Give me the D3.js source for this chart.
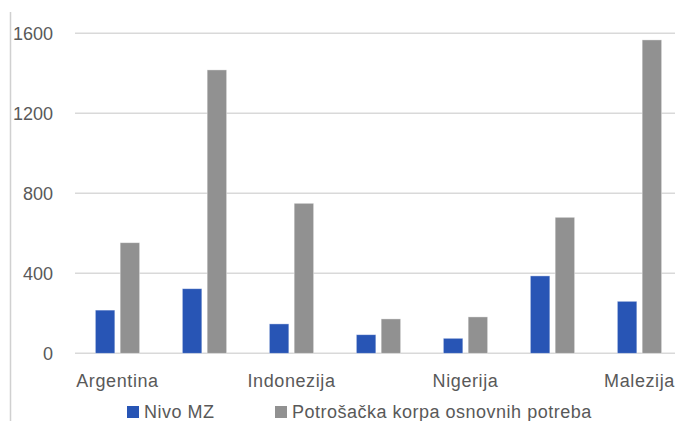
<html>
<head>
<script src="https://d3js.org/d3.v7.min.js"></script>
<style>
  body {margin:0; background:#fff; font-family:"Liberation Sans", Arial, sans-serif;}
  text {fill:#595959;}
</style>
</head>
<body>
<script>
// categories (only every other label is shown in the original)
var categories = ["Argentina", "", "Indonezija", "", "Nigerija", "", "Malezija"]
var nivoMZ     = [216, 323, 147, 93, 75, 387, 260]
var korpa      = [553, 1417, 750, 172, 182, 680, 1567]
var seriesNames = ["Nivo MZ", "Potrošačka korpa osnovnih potreba"]
var seriesColors = ["#2855b5", "#919191"]
var yTicks = [0, 400, 800, 1200, 1600]

var width = 675, height = 421
var svg = d3.select("body").append("svg")
    .attr("width", width)
    .attr("height", height)

var x = d3.scaleBand()
    .domain(d3.range(categories.length))
    .range([74, 683])

var sub = d3.scaleBand()
    .domain([0, 1])
    .range([0, x.bandwidth()])
    .paddingInner(0.214)
    .paddingOuter(0.86)

var y = d3.scaleLinear()
    .domain([0, 1600])
    .range([353.3, 33.3])

// left border line
svg.append("line")
    .attr("x1", 10.5).attr("x2", 10.5)
    .attr("y1", 12).attr("y2", height)
    .style("stroke", "#d0d0d0")
    .style("stroke-width", 1.5)

// gridlines
svg.append("g")
    .selectAll("line")
    .data(yTicks)
    .enter().append("line")
    .attr("x1", 75).attr("x2", width)
    .attr("y1", function(d){ return y(d) })
    .attr("y2", function(d){ return y(d) })
    .style("stroke", "#d9d9d9")
    .style("stroke-width", 1.5)

// y tick labels
svg.append("g")
    .selectAll("text")
    .data(yTicks)
    .enter().append("text")
    .attr("x", 53)
    .attr("y", function(d){ return y(d) })
    .attr("dy", "0.36em")
    .attr("text-anchor", "end")
    .style("font-size", "18px")
    .text(function(d){ return d })

// bars
var data = categories.map(function(c, i){ return [nivoMZ[i], korpa[i]] })
var groups = svg.append("g")
    .selectAll("g")
    .data(data)
    .enter().append("g")
    .attr("transform", function(d, i){ return "translate(" + x(i) + ",0)" })

groups.selectAll("rect")
    .data(function(d){ return d })
    .enter().append("rect")
    .attr("x", function(d, j){ return sub(j) })
    .attr("width", sub.bandwidth())
    .attr("y", function(d){ return y(d) })
    .attr("height", function(d){ return y(0) - y(d) })
    .style("fill", function(d, j){ return seriesColors[j] })
    .style("stroke", "#ffffff")
    .style("stroke-opacity", 0.5)
    .style("stroke-width", 0.8)

// category labels
svg.append("g")
    .selectAll("text")
    .data(categories)
    .enter().append("text")
    .attr("x", function(d, i){ return x(i) + x.bandwidth() / 2 })
    .attr("y", 387)
    .attr("text-anchor", "middle")
    .style("font-size", "18px")
    .style("letter-spacing", "0.6px")
    .text(function(d){ return d })

// legend
var legendX = [127, 275]
var legend = svg.append("g")
    .selectAll("g")
    .data(seriesNames)
    .enter().append("g")
    .attr("transform", function(d, i){ return "translate(" + legendX[i] + ",406)" })

legend.append("rect")
    .attr("width", 12).attr("height", 12)
    .style("fill", function(d, i){ return seriesColors[i] })

legend.append("text")
    .attr("x", 17)
    .attr("y", 12)
    .style("font-size", "18px")
    .style("letter-spacing", "0.5px")
    .text(function(d){ return d })
</script>
</body>
</html>
